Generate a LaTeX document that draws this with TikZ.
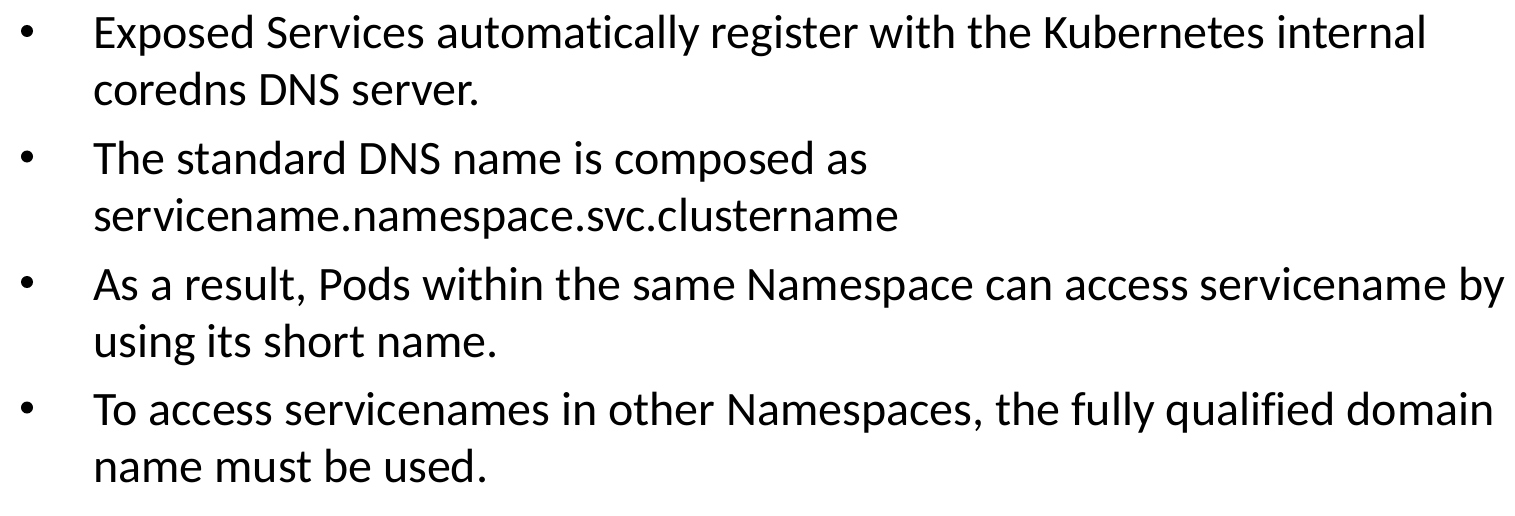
\documentclass[tikz,border=0pt]{standalone}
\usepackage{fontspec}
\setmainfont{Carlito}[Ligatures={NoCommon}]
\begin{document}
\begin{tikzpicture}[x=1pt,y=-1pt,
  txt/.style={anchor=base west,inner sep=0pt,font=\fontsize{48}{57}\selectfont},
  dot/.style={circle,fill=black,inner sep=0pt,minimum size=12pt}]
\useasboundingbox[fill=white] (0,0) rectangle (1515,516);
\node[dot] (b1) at (27,31) {};
\node[txt] (l1a) at (93,49) {Exposed Services automatically register with the Kubernetes internal};
\node[txt] (l1b) at (93,106) {coredns DNS server.};
\node[dot] (b2) at (27,156.5) {};
\node[txt] (l2a) at (93,174.5) {The standard DNS name is composed as};
\node[txt] (l2b) at (93,231.5) {servicename.namespace.svc.clustername};
\node[dot] (b3) at (27,282) {};
\node[txt] (l3a) at (93,300) {As a result, Pods within the same Namespace can access servicename by};
\node[txt] (l3b) at (93,357) {using its short name.};
\node[dot] (b4) at (27,407.5) {};
\node[txt] (l4a) at (93,425.5) {To access servicenames in other Namespaces, the fully qualified domain};
\node[txt] (l4b) at (93,482.5) {name must be used.};
\end{tikzpicture}
\end{document}
